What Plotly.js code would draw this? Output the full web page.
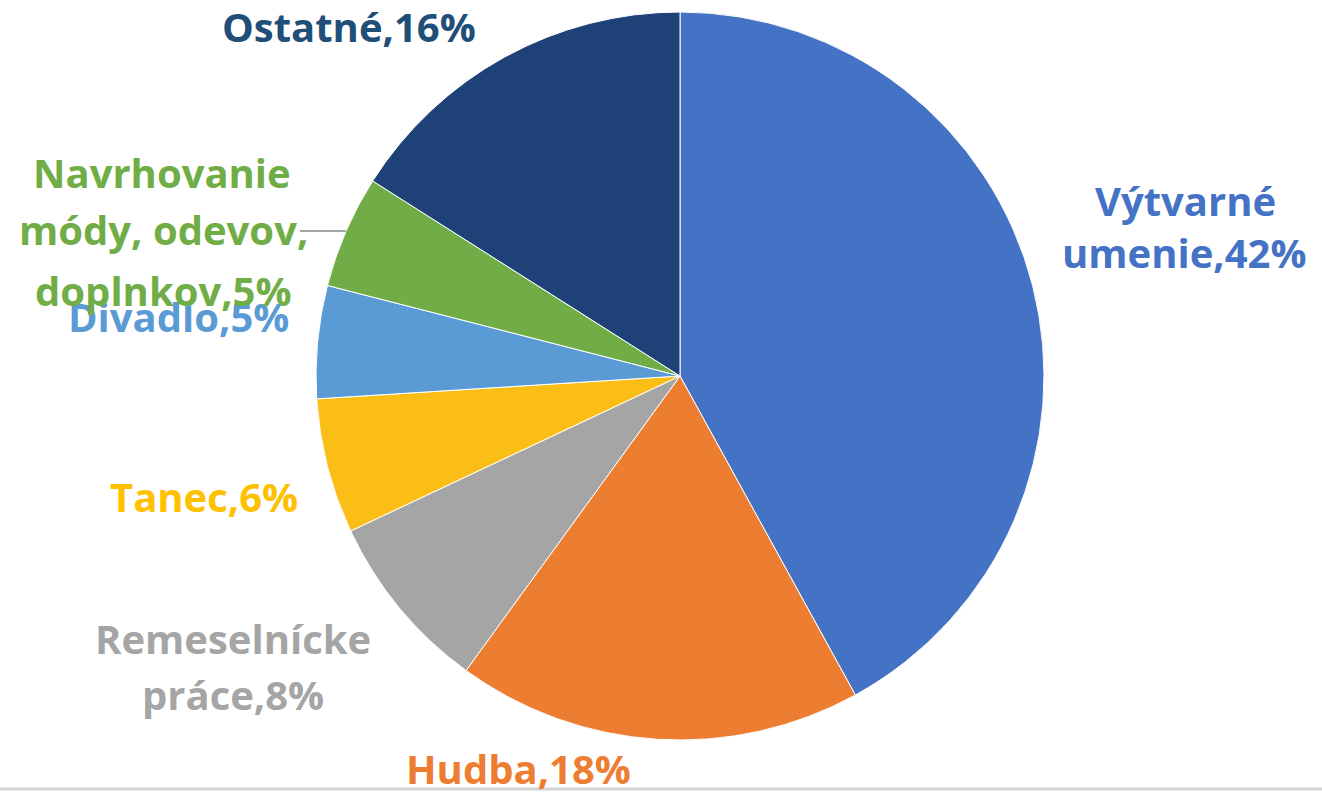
<!DOCTYPE html>
<html>
<head>
<meta charset="utf-8">
<script src="https://cdn.plot.ly/plotly-3.0.1.min.js"></script>
<style>html,body{margin:0;padding:0;background:#fff;}#chart{width:1322px;height:793px;}</style>
</head>
<body>
<div id="chart"></div>
<script>
// Data
var categories = ["Výtvarné umenie", "Hudba", "Remeselnícke práce", "Tanec", "Divadlo", "Navrhovanie módy, odevov, doplnkov", "Ostatné"];
var values = [42, 18, 8, 6, 5, 5, 16];
// label lines as printed on the chart
var labelLines = [
  ["Výtvarné", "umenie,42%"],
  ["Hudba,18%"],
  ["Remeselnícke", "práce,8%"],
  ["Tanec,6%"],
  ["Divadlo,5%"],
  ["Navrhovanie", "módy, odevov,", "doplnkov,5%"],
  ["Ostatné,16%"]
];

// Styles / layout
var sliceColors = ["#4472C4", "#ED7D31", "#A5A5A5", "#FBBE16", "#5B9BD5", "#70AD47", "#1E4178"];
var textColors = ["#4472C4", "#ED7D31", "#A5A5A5", "#FFC000", "#5B9BD5", "#70AD47", "#1F4E79"];
var W = 1322, H = 793;
// label line positions in pixels [x, y] for each line
var labelPos = [
  [[1185, 200], [1184, 252]],
  [[518, 768]],
  [[233, 638], [233, 694]],
  [[204, 496]],
  [[178, 316]],
  [[162, 172], [163, 230], [163, 290]],
  [[349, 27]]
];

var annotations = [];
for (var i = 0; i < labelLines.length; i++) {
  for (var j = 0; j < labelLines[i].length; j++) {
    annotations.push({
      text: labelLines[i][j],
      xref: "paper", yref: "paper",
      x: labelPos[i][j][0] / W, y: 1 - labelPos[i][j][1] / H,
      xanchor: "center", yanchor: "middle",
      showarrow: false,
      font: {family: "Open Sans, sans-serif", size: 40, color: textColors[i], weight: "bold"}
    });
  }
}

var cx = 680, cy = 376, r = 364;
var data = [{
  type: "pie",
  labels: categories,
  values: values,
  sort: false,
  direction: "clockwise",
  rotation: 0,
  textinfo: "none",
  hoverinfo: "label+percent",
  marker: {colors: sliceColors, line: {color: "#ffffff", width: 1}},
  domain: {x: [(cx - r) / W, (cx + r) / W], y: [1 - (cy + r) / H, 1 - (cy - r) / H]},
  showlegend: false
}];

var layout = {
  width: W, height: H,
  margin: {l: 0, r: 0, t: 0, b: 0},
  paper_bgcolor: "#ffffff",
  showlegend: false,
  annotations: annotations,
  shapes: [
    {type: "line", xref: "paper", yref: "paper", x0: 300 / W, x1: 346 / W, y0: 1 - 231 / H, y1: 1 - 231 / H, line: {color: "#A6A6A6", width: 2}},
    {type: "line", xref: "paper", yref: "paper", x0: 0, x1: 1, y0: 1 - 789 / H, y1: 1 - 789 / H, line: {color: "#D4D4D4", width: 3}}
  ]
};

Plotly.newPlot("chart", data, layout, {staticPlot: true, displayModeBar: false});
</script>
</body>
</html>
